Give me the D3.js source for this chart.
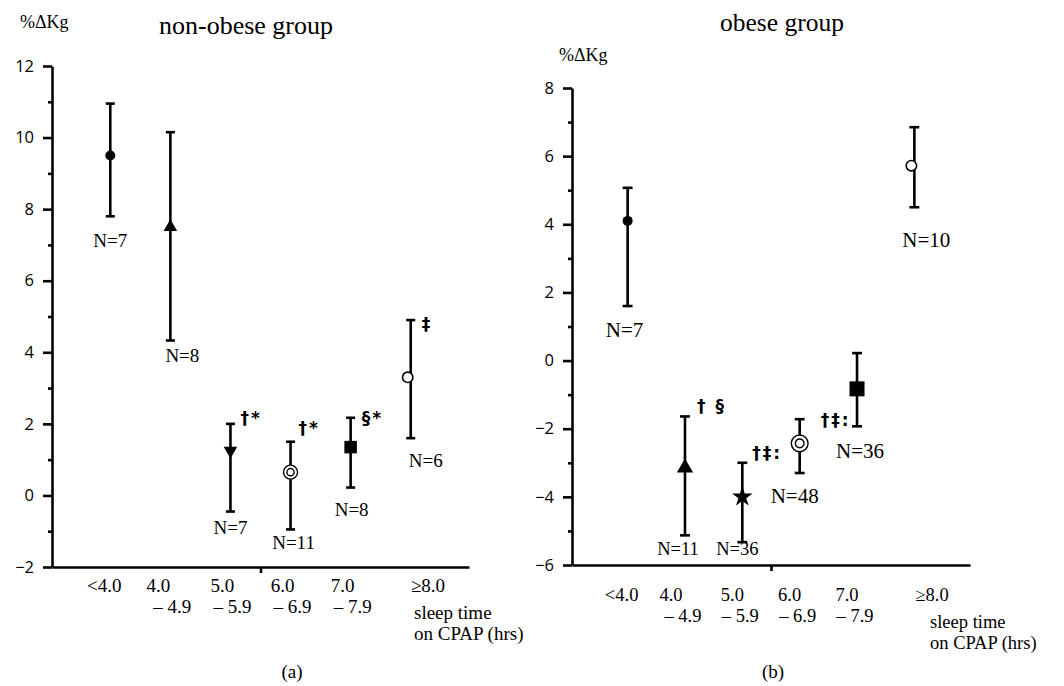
<!DOCTYPE html>
<html>
<head>
<meta charset="utf-8">
<script src="https://cdn.jsdelivr.net/npm/d3@7"></script>
<style>
  body { margin: 0; background: #fff; }
  svg { display: block; }
</style>
</head>
<body>
<svg id="chart" width="1064" height="686"></svg>
<script>
// sleep-time categories and tick labels (two lines each)
const categories = ["<4.0", "4.0-4.9", "5.0-5.9", "6.0-6.9", "7.0-7.9", ">=8.0"];
const tickLine1 = ["<4.0", "4.0", "5.0", "6.0", "7.0", "≥8.0"];
const tickLine2 = ["", "– 4.9", "– 5.9", "– 6.9", "– 7.9", ""];

// non-obese group (a)
const nonObeseMean = [9.5, 7.5, 1.25, 0.65, 1.35, 3.3];
const nonObeseUpper = [10.95, 10.15, 2.0, 1.5, 2.17, 4.9];
const nonObeseLower = [7.8, 4.33, -0.45, -0.95, 0.22, 1.6];
const nonObeseN = [7, 8, 7, 11, 8, 6];
const nonObeseNote = ["", "", "†*", "†*", "§*", "‡"];
const nonObeseTicks = [-2, 0, 2, 4, 6, 8, 10, 12];

// obese group (b)
const obeseMean = [4.1, -3.15, -4.0, -2.43, -0.83, 5.72];
const obeseUpper = [5.07, -1.64, -3.0, -1.72, 0.22, 6.85];
const obeseLower = [1.6, -5.13, -5.33, -3.3, -1.93, 4.5];
const obeseN = [7, 11, 36, 48, 36, 10];
const obeseNote = ["", "† §", "†‡:", "†‡:", "", ""];
const obeseTicks = [-6, -4, -2, 0, 2, 4, 6, 8];

const svg = d3.select('#chart');
const serif = '"Liberation Serif", "Times New Roman", serif';
const sans = '"Open Sans", "Liberation Sans", sans-serif';

const panels = [
  {
    title: 'non-obese group', letter: '(a)',
    mean: nonObeseMean, upper: nonObeseUpper, lower: nonObeseLower,
    n: nonObeseN, note: nonObeseNote, ticks: nonObeseTicks,
    x0: 52, x1: 469, yTop: 66, yBot: 567,
    titleX: 246, titleY: 34, titleSize: 26, unitX: 20, unitY: 28, letterX: 292,
    shapes: ['dot', 'tri', 'triDown', 'bull', 'square', 'open'],
    scale: 1, nSize: 19,
    nOff: [[0, 31], [12, 22], [0, 22], [3, 20], [1, 28], [15, 29]],
    noteOff: [null, null, [10, 0], [8, -8], [11, 6], [11, 10]],
    labelBase: 592, sleepX: 414, geX: 428
  },
  {
    title: 'obese group', letter: '(b)',
    mean: obeseMean, upper: obeseUpper, lower: obeseLower,
    n: obeseN, note: obeseNote, ticks: obeseTicks,
    x0: 572, x1: 970, yTop: 88, yBot: 565,
    titleX: 782, titleY: 31, titleSize: 25.5, unitX: 559, unitY: 61, letterX: 773,
    shapes: ['dot', 'tri', 'star', 'bull', 'square', 'open'],
    scale: 1.2, nSize: 21,
    nOff: [[-3, 31], [-7, 20], [-5, 13], [-5, 30], [3, 32], [12, 40]],
    noteOff: [null, [12, -4], [10, -4], [21, 7], null, null],
    labelBase: 601, sleepX: 930, geX: 932
  }
];

panels.forEach(p => {
  const g = svg.append('g');
  const idx = d3.range(categories.length);

  const x = d3.scaleLinear()
    .domain([-0.97, categories.length - 1 + 0.97])
    .range([p.x0, p.x1]);

  const y = d3.scaleLinear()
    .domain(d3.extent(p.ticks))
    .range([p.yBot, p.yTop]);

  // minor ticks at odd values
  const minor = d3.range(p.ticks[0] + 1, p.ticks[p.ticks.length - 1], 2);
  g.append('g')
    .attr('transform', `translate(${p.x0},0)`)
    .call(d3.axisLeft(y).tickValues(minor).tickSize(4).tickSizeOuter(0).tickFormat(''))
    .call(s => s.select('.domain').remove());

  const yAxis = g.append('g')
    .attr('transform', `translate(${p.x0},0)`)
    .call(d3.axisLeft(y).tickValues(p.ticks).tickSize(9).tickSizeOuter(0).tickPadding(9).tickFormat(d3.format('d')));
  yAxis.selectAll('text')
    .attr('font-family', sans).attr('font-size', 16.5).attr('fill', '#000');

  // x axis with single tick between 5.0 and 6.0
  g.append('g')
    .attr('transform', `translate(0,${p.yBot})`)
    .call(d3.axisBottom(x).tickValues([2.5]).tickSize(6).tickSizeOuter(0).tickFormat(''));

  g.selectAll('.domain, .tick line').attr('stroke', '#000').attr('stroke-width', 2.6);

  const labSize = p.scale > 1 ? 18.5 : 19;
  // category labels
  g.selectAll('.lab1').data(idx).enter().append('text')
    .attr('x', i => i === 5 ? p.geX : x(i) + (i === 0 ? -6 : -8 + (i === 1 ? -4 : 0) + (p.scale > 1 ? -2 : 0)))
    .attr('y', p.labelBase)
    .attr('text-anchor', 'middle')
    .attr('font-family', serif).attr('font-size', labSize)
    .text(i => tickLine1[i]);

  g.selectAll('.lab2').data(idx).enter().append('text')
    .attr('x', i => x(i) + 2 + (p.scale > 1 ? -4 : 0))
    .attr('y', p.labelBase + 21)
    .attr('text-anchor', 'middle')
    .attr('font-family', serif).attr('font-size', labSize)
    .text(i => tickLine2[i]);

  g.append('text')
    .attr('x', p.sleepX).attr('y', p.labelBase + 27)
    .attr('font-family', serif).attr('font-size', labSize)
    .text('sleep time');
  g.append('text')
    .attr('x', p.sleepX).attr('y', p.labelBase + 48)
    .attr('font-family', serif).attr('font-size', labSize)
    .text('on CPAP (hrs)');

  // titles
  g.append('text')
    .attr('x', p.titleX).attr('y', p.titleY)
    .attr('text-anchor', 'middle')
    .attr('font-family', serif).attr('font-size', p.titleSize)
    .text(p.title);
  g.append('text')
    .attr('x', p.unitX).attr('y', p.unitY)
    .attr('font-family', serif).attr('font-size', 18)
    .text('%ΔKg');
  g.append('text')
    .attr('x', p.letterX).attr('y', 678)
    .attr('text-anchor', 'middle')
    .attr('font-family', serif).attr('font-size', 19)
    .text(p.letter);

  // error bars
  const capW = 4.5 * (p.scale > 1 ? 1.1 : 1);
  const bars = g.selectAll('.err').data(idx).enter().append('g')
    .attr('stroke', '#000').attr('stroke-width', 2.6);
  bars.append('line')
    .attr('x1', i => x(i)).attr('x2', i => x(i))
    .attr('y1', i => y(p.upper[i])).attr('y2', i => y(p.lower[i]));
  bars.append('line')
    .attr('x1', i => x(i) - capW).attr('x2', i => x(i) + capW)
    .attr('y1', i => y(p.upper[i])).attr('y2', i => y(p.upper[i]));
  bars.append('line')
    .attr('x1', i => x(i) - capW).attr('x2', i => x(i) + capW)
    .attr('y1', i => y(p.lower[i])).attr('y2', i => y(p.lower[i]));

  // markers
  const k = p.scale;
  idx.forEach(i => {
    const cx = x(i), cy = y(p.mean[i]);
    const m = g.append('g').attr('transform', `translate(${cx},${cy})`);
    switch (p.shapes[i]) {
      case 'dot':
        m.append('circle').attr('r', 5).attr('fill', '#000');
        break;
      case 'open':
        m.append('circle').attr('cx', -3).attr('r', 5.2)
          .attr('fill', '#fff').attr('stroke', '#000').attr('stroke-width', 1.6);
        break;
      case 'tri':
        m.append('path').attr('d', d3.symbol(d3.symbolTriangle, 80 * k * k)()).attr('fill', '#000');
        break;
      case 'triDown':
        m.append('path').attr('transform', 'rotate(180)')
          .attr('d', d3.symbol(d3.symbolTriangle, 80)()).attr('fill', '#000');
        break;
      case 'star':
        m.append('path').attr('d', d3.symbol(d3.symbolStar, 130)()).attr('fill', '#000');
        break;
      case 'square': {
        const s = 12.5 * k;
        m.append('rect').attr('x', -s / 2).attr('y', -s / 2)
          .attr('width', s).attr('height', s).attr('fill', '#000');
        break;
      }
      case 'bull':
        m.append('circle').attr('r', 7 * k)
          .attr('fill', '#fff').attr('stroke', '#000').attr('stroke-width', 1.4);
        m.append('circle').attr('r', 3.6 * k)
          .attr('fill', 'none').attr('stroke', '#000').attr('stroke-width', 1.4);
        break;
    }
  });

  // sample size labels
  g.selectAll('.nlab').data(idx).enter().append('text')
    .attr('x', i => x(i) + p.nOff[i][0])
    .attr('y', i => y(p.lower[i]) + p.nOff[i][1])
    .attr('text-anchor', 'middle')
    .attr('font-family', serif)
    .attr('font-size', i => (p.scale > 1 && (i === 1 || i === 2)) ? 18.5 : p.nSize)
    .text(i => 'N=' + p.n[i]);

  // significance marks
  g.selectAll('.note').data(idx.filter(i => p.note[i])).enter().append('text')
    .attr('x', i => x(i) + p.noteOff[i][0])
    .attr('y', i => y(p.upper[i]) + p.noteOff[i][1])
    .attr('font-family', '"DejaVu Sans", sans-serif')
    .attr('font-weight', 'bold')
    .attr('font-size', 17)
    .attr('letter-spacing', 2)
    .text(i => p.note[i]);
});
</script>
</body>
</html>
